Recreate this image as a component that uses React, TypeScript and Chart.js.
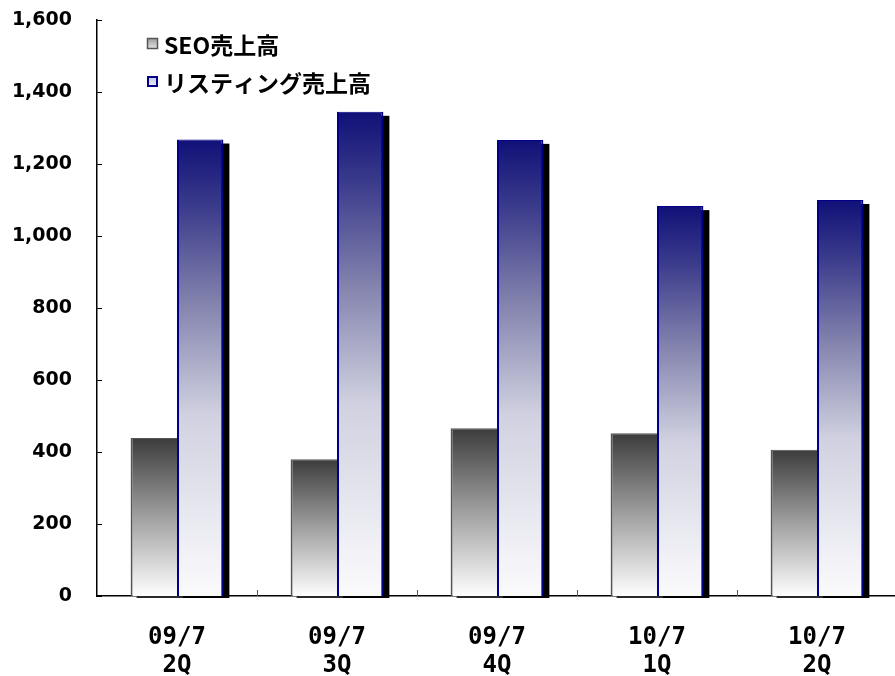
import React, { useEffect, useRef } from "react";
import { Chart, registerables } from "chart.js";

Chart.register(...registerables);

const categories: string[][] = [
  ["09/7", "2Q"],
  ["09/7", "3Q"],
  ["09/7", "4Q"],
  ["10/7", "1Q"],
  ["10/7", "2Q"],
];
const seoSales = [439, 380, 466, 452, 406];
const listingSales = [1268, 1345, 1267, 1083, 1100];
const seriesNames = ["SEO売上高", "リスティング売上高"];
const yMin = 0;
const yMax = 1600;
const yStep = 200;

const seoStops: [number, string][] = [
  [0, "#3c3c3c"],
  [0.5, "#a0a0a0"],
  [1, "#fefefe"],
];
const listingStops: [number, string][] = [
  [0, "#101078"],
  [0.15, "#3c3c8c"],
  [0.35, "#8080ac"],
  [0.6, "#d0d0e0"],
  [1, "#fbfbfd"],
];

function barGradient(stops: [number, string][]) {
  return (ctx: any) => {
    const chart = ctx.chart;
    const y = chart.scales?.y;
    if (!chart.chartArea || !y) return stops[0][1];
    const top = y.getPixelForValue(ctx.raw);
    const bot = y.getPixelForValue(0);
    const g = chart.ctx.createLinearGradient(0, top, 0, bot);
    stops.forEach(([o, c]) => g.addColorStop(o, c));
    return g;
  };
}

const shadowPlugin = {
  id: "barShadow",
  beforeDatasetsDraw(chart: any) {
    const c = chart.ctx;
    const base = chart.scales.y.getPixelForValue(0);
    chart.data.datasets.forEach((_: any, i: number) => {
      const meta = chart.getDatasetMeta(i);
      meta.data.forEach((bar: any) => {
        const { x, y, width } = bar.getProps(["x", "y", "width"], true);
        c.save();
        c.fillStyle = i === 1 ? "#000000" : "#2a2a2a";
        const left = x - width / 2 + 6;
        const top = y + 4;
        c.fillRect(left, top, width, base + 2 - top);
        c.restore();
      });
    });
  },
};

const ticksPlugin = {
  id: "tickMarks",
  afterDraw(chart: any) {
    const c = chart.ctx;
    const xs = chart.scales.x;
    const ys = chart.scales.y;
    const base = ys.getPixelForValue(0);
    const axisX = chart.chartArea.left;
    c.save();
    c.strokeStyle = "#000";
    c.lineWidth = 1;
    for (let v = yMin; v <= yMax; v += yStep) {
      const py = Math.round(ys.getPixelForValue(v)) + 0.5;
      c.beginPath();
      c.moveTo(axisX, py);
      c.lineTo(axisX + 5, py);
      c.stroke();
    }
    c.strokeStyle = "#555";
    for (let i = 1; i < categories.length; i++) {
      const px = Math.round((xs.getPixelForValue(i - 1) + xs.getPixelForValue(i)) / 2) + 0.5;
      c.beginPath();
      c.moveTo(px, base);
      c.lineTo(px, base - 6);
      c.stroke();
    }
    c.restore();
  },
};

const legendPlugin = {
  id: "customLegend",
  afterDraw(chart: any) {
    const c = chart.ctx;
    c.save();
    const g1 = c.createLinearGradient(0, 38, 0, 49);
    g1.addColorStop(0, "#9a9a9a");
    g1.addColorStop(1, "#e8e8e8");
    c.fillStyle = g1;
    c.fillRect(147, 38, 11, 11);
    c.strokeStyle = "#555";
    c.lineWidth = 1.5;
    c.strokeRect(147.5, 38.5, 10, 10);
    const g2 = c.createLinearGradient(0, 76, 0, 87);
    g2.addColorStop(0, "#c0c0dc");
    g2.addColorStop(1, "#f0f0f8");
    c.fillStyle = g2;
    c.fillRect(147, 76, 11, 11);
    c.strokeStyle = "#000088";
    c.lineWidth = 2;
    c.strokeRect(148, 77, 9, 9);
    c.fillStyle = "#000";
    c.font = "bold 23px 'Noto Sans CJK JP'";
    c.textBaseline = "middle";
    c.textAlign = "left";
    c.fillText(seriesNames[0], 164, 45);
    c.fillText(seriesNames[1], 164, 83);
    c.restore();
  },
};

export default function App() {
  const ref = useRef<HTMLCanvasElement>(null);
  useEffect(() => {
    document.body.style.margin = "0";
    document.body.style.overflow = "hidden";
    const canvas = ref.current!;
    const chart = new Chart(canvas, {
      type: "bar",
      data: {
        labels: categories as any,
        datasets: [
          {
            label: seriesNames[0],
            data: seoSales,
            backgroundColor: barGradient(seoStops) as any,
            borderColor: "#555555",
            borderWidth: { left: 2, top: 1, right: 0, bottom: 0 } as any,
            borderSkipped: false,
            barPercentage: 1,
            categoryPercentage: 0.58,
          },
          {
            label: seriesNames[1],
            data: listingSales,
            backgroundColor: barGradient(listingStops) as any,
            borderColor: "#000088",
            borderWidth: { left: 2, top: 1, right: 2, bottom: 0 } as any,
            borderSkipped: false,
            barPercentage: 1,
            categoryPercentage: 0.58,
          },
        ],
      },
      options: {
        responsive: false,
        animation: false,
        devicePixelRatio: 1,
        layout: { padding: { top: 20, left: 0, right: 0, bottom: 0 } },
        plugins: {
          legend: { display: false },
          tooltip: { enabled: false },
        },
        scales: {
          x: {
            grid: { display: false, drawTicks: false },
            border: { display: true, color: "#000", width: 1.5 },
            ticks: {
              color: "#000",
              padding: 27,
              maxRotation: 0,
              autoSkip: false,
              font: { family: "'DejaVu Sans Mono'", size: 24, weight: "bold", lineHeight: 1.2 },
            },
            afterFit(scale: any) {
              scale.height = 80;
              scale.paddingLeft = 0;
              scale.paddingRight = 0;
            },
          },
          y: {
            min: yMin,
            max: yMax,
            grid: { display: false, drawTicks: false },
            border: { display: true, color: "#000", width: 1.5 },
            ticks: {
              stepSize: yStep,
              color: "#000",
              padding: 25,
              font: { family: "'DejaVu Sans'", size: 19, weight: "bold" },
              callback: (v: any) => Number(v).toLocaleString("en-US"),
            },
            afterFit(scale: any) {
              scale.width = 97;
              scale.paddingTop = 0;
              scale.paddingBottom = 0;
            },
          },
        },
      },
      plugins: [shadowPlugin, ticksPlugin, legendPlugin],
    });
    return () => chart.destroy();
  }, []);
  return (
    <div
      style={{
        position: "fixed",
        left: 0,
        top: 0,
        width: 895,
        height: 676,
        overflow: "hidden",
        background: "#fff",
      }}
    >
      <canvas ref={ref} width={897} height={676} style={{ display: "block" }} />
    </div>
  );
}
